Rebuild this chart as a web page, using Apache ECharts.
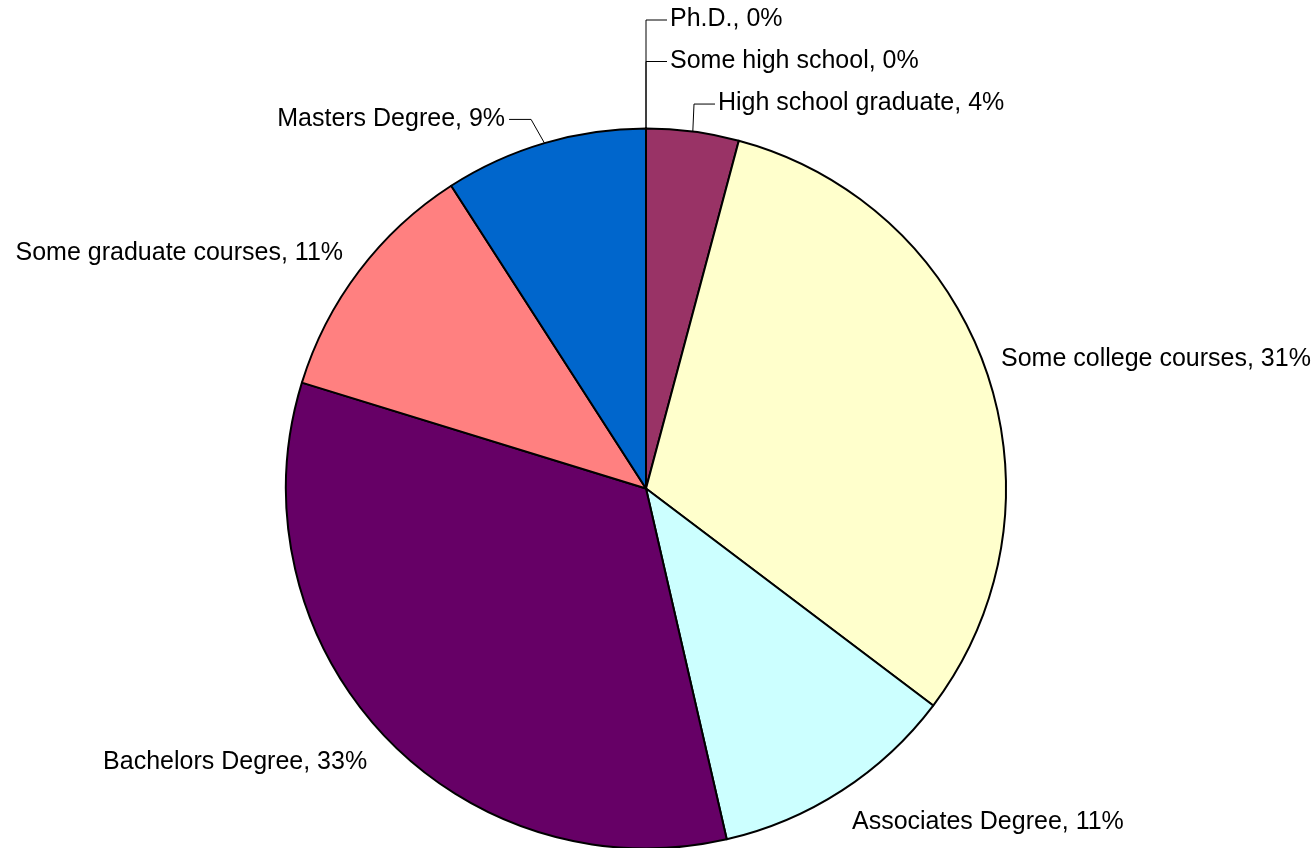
<!DOCTYPE html>
<html>
<head>
<meta charset="utf-8">
<script src="https://cdn.jsdelivr.net/npm/echarts@6/dist/echarts.min.js"></script>
<style>
  html, body { margin: 0; padding: 0; background: #ffffff; }
  #chart { width: 1316px; height: 848px; }
</style>
</head>
<body>
<div id="chart"></div>
<script>
// ---- data (shares in percent) ----
const categories = [
  'Some high school',
  'High school graduate',
  'Some college courses',
  'Associates Degree',
  'Bachelors Degree',
  'Some graduate courses',
  'Masters Degree',
  'Ph.D.'
];
const shares = [0, 4.15, 31.15, 11.1, 33.35, 11.15, 9.1, 0];
const sliceColors = ['#9999FF', '#993366', '#FFFFCC', '#CCFFFF', '#660066', '#FF8080', '#0066CC', '#CCCCFF'];

// ---- label placement (offsets from the slice's outer edge at mid-angle) ----
const labelPlacement = {
  'Some high school':      { dx: 24,    dy: -67.5, align: 'left',  leader: 'vertical' },
  'High school graduate':  { dx: 25.2,  dy: -28,   align: 'left',  leader: 'bend' },
  'Some college courses':  { dx: 14.6,  dy: -12.3, align: 'left' },
  'Associates Degree':     { dx: 10.2,  dy: 31.4,  align: 'left' },
  'Bachelors Degree':      { dx: -15.3, dy: 28.4,  align: 'right' },
  'Some graduate courses': { dx: -16.1, dy: -18.3, align: 'right' },
  'Masters Degree':        { dx: -39.4, dy: -24.2, align: 'right', leader: 'bend' },
  'Ph.D.':                 { dx: 24,    dy: -109,  align: 'left',  leader: 'vertical' }
};

const chart = echarts.init(document.getElementById('chart'), null, { renderer: 'canvas' });

function edgePoint(params) {
  try {
    const lay = chart.getModel().getSeriesByIndex(0).getData().getItemLayout(params.dataIndex);
    const mid = (lay.startAngle + lay.endAngle) / 2;
    return [lay.cx + lay.r * Math.cos(mid), lay.cy + lay.r * Math.sin(mid)];
  } catch (e) {
    if (params.labelLinePoints) return params.labelLinePoints[0];
    return [params.rect.x, params.rect.y];
  }
}

const option = {
  backgroundColor: '#ffffff',
  animation: false,
  series: [{
    type: 'pie',
    center: [646, 488.5],
    radius: 360,
    startAngle: 90,
    clockwise: true,
    avoidLabelOverlap: false,
    minShowLabelAngle: 0,
    data: categories.map((name, i) => ({
      name: name,
      value: shares[i],
      itemStyle: { color: sliceColors[i] },
      labelLine: { show: !!labelPlacement[name].leader }
    })),
    itemStyle: { borderColor: '#000000', borderWidth: 2 },
    emphasis: { disabled: true },
    label: {
      show: true,
      position: 'outside',
      color: '#000000',
      fontFamily: 'Liberation Sans, Arial, sans-serif',
      fontSize: 25,
      formatter: p => p.name + ', ' + Math.round(p.percent) + '%'
    },
    labelLine: {
      show: true,
      length: 10,
      length2: 10,
      lineStyle: { color: '#000000', width: 1 }
    },
    labelLayout: function (params) {
      const name = categories[params.dataIndex];
      const spec = labelPlacement[name];
      const e = edgePoint(params);
      const ax = e[0] + spec.dx;
      const ay = e[1] + spec.dy;
      const res = { x: ax, y: ay, align: spec.align, verticalAlign: 'middle', hideOverlap: false, moveOverlap: null };
      if (spec.leader) {
        const left = spec.align === 'left';
        const endX = left ? ax - 3 : ax + 4;
        let bendX;
        if (spec.leader === 'vertical') bendX = e[0];
        else bendX = left ? ax - 24 : ax + 26;
        res.labelLinePoints = [[e[0], e[1]], [bendX, ay + 0.5], [endX, ay + 0.5]];
      }
      return res;
    }
  }]
};

chart.setOption(option);
</script>
</body>
</html>
